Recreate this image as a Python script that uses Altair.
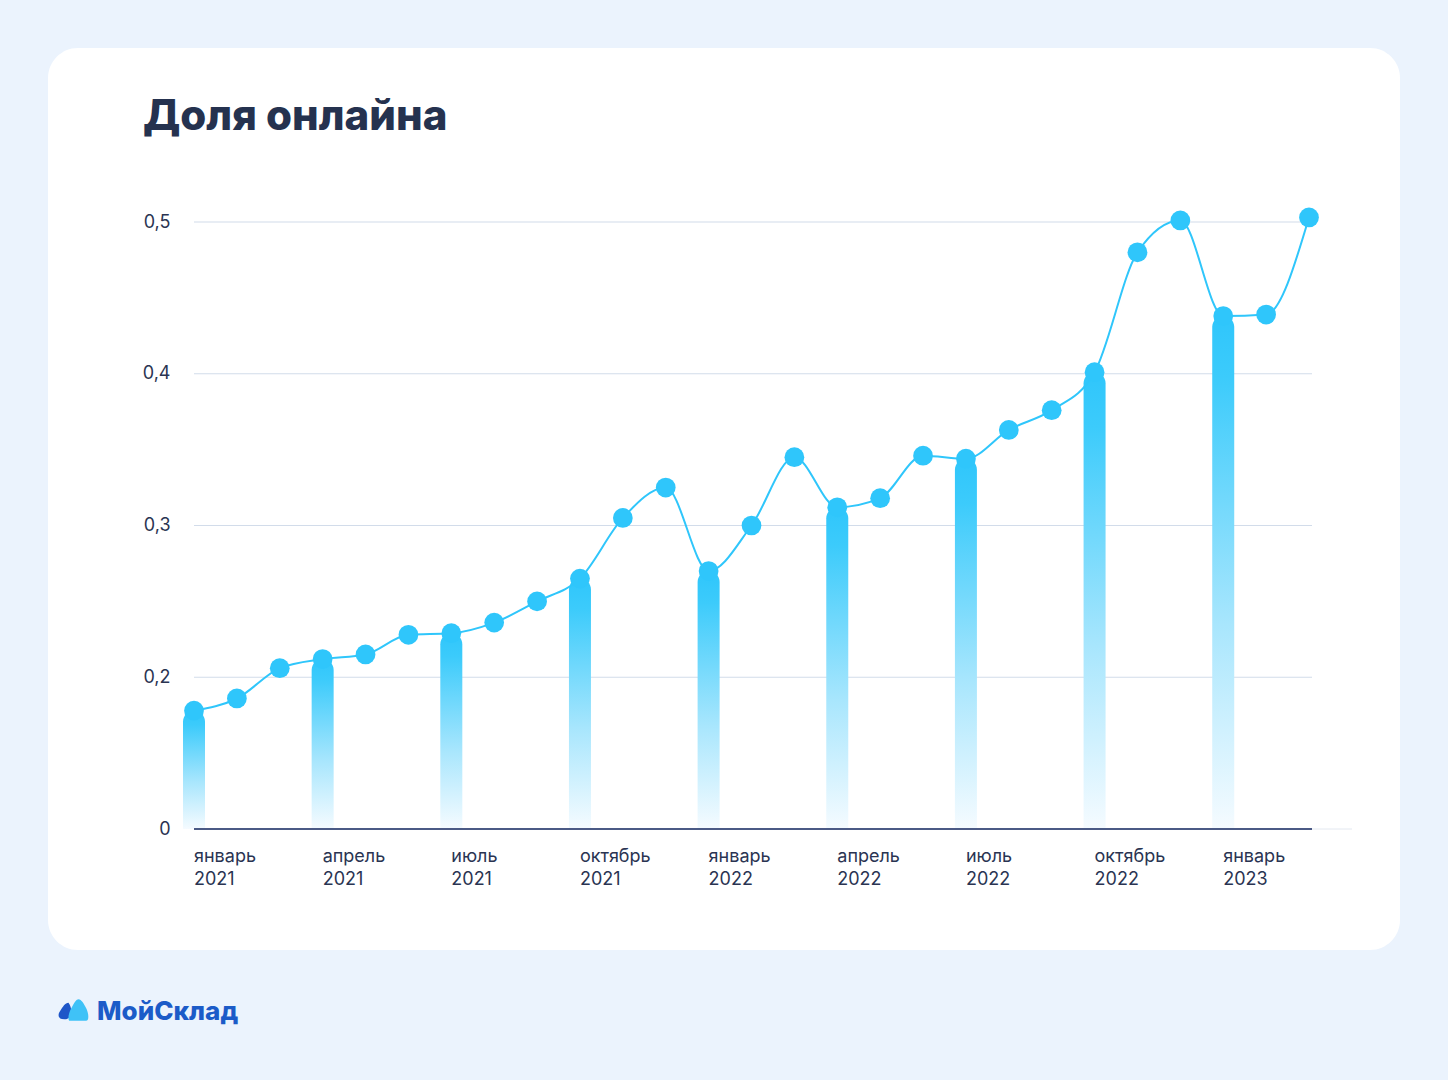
import altair as alt
import pandas as pd

months = list(range(27))
values = [0.178, 0.186, 0.206, 0.212, 0.215, 0.228, 0.229, 0.236, 0.250, 0.265,
          0.305, 0.325, 0.270, 0.300, 0.345, 0.312, 0.318, 0.346, 0.344, 0.363,
          0.376, 0.401, 0.480, 0.501, 0.438, 0.439, 0.503]
bar_months = [0, 3, 6, 9, 12, 15, 18, 21, 24]
tick_labels = ["январь\n2021", "апрель\n2021", "июль\n2021", "октябрь\n2021",
               "январь\n2022", "апрель\n2022", "июль\n2022", "октябрь\n2022",
               "январь\n2023"]
y_ticks = [0.1, 0.2, 0.3, 0.4, 0.5]
grid_ticks = [0.2, 0.3, 0.4, 0.5]

df = pd.DataFrame({"m": months, "v": values})
bars = pd.DataFrame({"m": bar_months, "v": [values[i] for i in bar_months], "base": [0.1] * len(bar_months)})
labs = pd.DataFrame({"m": bar_months, "lab": tick_labels})
grid = pd.DataFrame({"g": grid_ticks})

FONT = "Inter"
CYAN = "#2FC6FB"
TEXT = "#2A3452"

W, H = 1118, 607
L, T = 194, 222

xs = alt.Scale(domain=[0, 26.07], nice=False, zero=False, padding=0)
ys = alt.Scale(domain=[0.1, 0.5], nice=False, zero=False)

card = alt.Chart(pd.DataFrame({"a": [0]})).mark_rect(
    fill="white", cornerRadius=30
).encode(
    x=alt.value(48 - L), x2=alt.value(1400 - L),
    y=alt.value(48 - T), y2=alt.value(950 - T)
)

title = alt.Chart(pd.DataFrame({"t": ["Доля онлайна"]})).mark_text(
    font=FONT, fontSize=42, fontWeight=800, color="#25324F", align="left", baseline="alphabetic"
).encode(x=alt.value(143 - L), y=alt.value(130 - T), text="t:N")

grid_layer = alt.Chart(grid).mark_rule(color="#D2DCEA", strokeWidth=1.2).encode(
    y=alt.Y("g:Q", scale=ys), x=alt.value(0), x2=alt.value(W))

axis_layer = alt.Chart(df).mark_point(opacity=0).encode(
    x=alt.X("m:Q", scale=xs, axis=None),
    y=alt.Y("v:Q", scale=ys, axis=alt.Axis(
        values=y_ticks, title=None, ticks=False, domain=False, grid=False, zindex=1,
        labelExpr="datum.value < 0.15 ? '0' : replace(format(datum.value, '.1f'), '.', ',')",
        labelPadding=24, labelFontSize=18, labelFont=FONT, labelColor=TEXT
    ))
)

bar_layer = alt.Chart(bars).mark_bar(
    size=22, cornerRadiusTopLeft=11, cornerRadiusTopRight=11,
    color=alt.Gradient(
        gradient="linear", x1=0, y1=0, x2=0, y2=1,
        stops=[alt.GradientStop(color=CYAN, offset=0),
               alt.GradientStop(color="#3CCBFB", offset=0.12),
               alt.GradientStop(color="#A8E6FD", offset=0.6),
               alt.GradientStop(color="#F5FBFF", offset=1)]
    )
).encode(x=alt.X("m:Q", scale=xs), y=alt.Y("v:Q", scale=ys), y2="base:Q")

base_dark = alt.Chart(pd.DataFrame({"a": [0]})).mark_rule(color="#4B5A85", strokeWidth=2).encode(
    x=alt.value(0), x2=alt.value(W), y=alt.value(H))
base_light = alt.Chart(pd.DataFrame({"a": [0]})).mark_rule(color="#E3E8F0", strokeWidth=1).encode(
    x=alt.value(W), x2=alt.value(W + 40), y=alt.value(H))

line = alt.Chart(df).mark_line(color=CYAN, strokeWidth=2, interpolate="monotone").encode(
    x=alt.X("m:Q", scale=xs), y=alt.Y("v:Q", scale=ys))
pts = alt.Chart(df).mark_circle(color=CYAN, size=390, opacity=1).encode(
    x=alt.X("m:Q", scale=xs), y=alt.Y("v:Q", scale=ys))

xlab = alt.Chart(labs).mark_text(
    font=FONT, fontSize=18, color=TEXT, align="left", baseline="top", lineBreak="\n", lineHeight=23
).encode(x=alt.X("m:Q", scale=xs), y=alt.value(848 - T), text="lab:N")

icon_dark = alt.Chart(pd.DataFrame({"a": [0]})).mark_point(
    shape="M -0.2 1 C -1 1 -1 0.4 -0.7 0 C -0.4 -0.5 -0.1 -1 0.3 -1 C 0.6 -0.6 0.7 0 0.6 0.4 C 0.5 0.8 0.2 1 -0.2 1 Z",
    filled=True, fill="#1E56C8", size=280, opacity=1, strokeWidth=0
).encode(x=alt.value(66 - L), y=alt.value(1011 - T))
icon_light = alt.Chart(pd.DataFrame({"a": [0]})).mark_point(
    shape="M -0.75 1 C -1 1 -0.9 0.3 -0.6 -0.2 C -0.35 -0.7 -0.15 -1 0.05 -1 C 0.3 -1 0.55 -0.6 0.8 -0.1 C 1 0.35 1.05 1 0.75 1 Z",
    filled=True, fill="#3FC2F7", size=460, opacity=1, strokeWidth=0
).encode(x=alt.value(78 - L), y=alt.value(1010 - T))
logo = alt.Chart(pd.DataFrame({"t": ["МойСклад"]})).mark_text(
    font=FONT, fontSize=26, fontWeight=800, color="#1B5BC8", align="left", baseline="middle"
).encode(x=alt.value(97 - L), y=alt.value(1012 - T), text="t:N")

chart = alt.layer(
    card, grid_layer, axis_layer, title, bar_layer, base_dark, base_light, line, pts, xlab,
    icon_dark, icon_light, logo
).properties(
    width=W, height=H,
    autosize=alt.AutoSizeParams(type="none"),
    padding={"left": L, "top": T, "right": 1448 - L - W, "bottom": 1080 - T - H},
    background="#EBF3FD"
).configure_view(stroke=None)

chart.save("out.html", embed_options={"renderer": "svg", "actions": False})
